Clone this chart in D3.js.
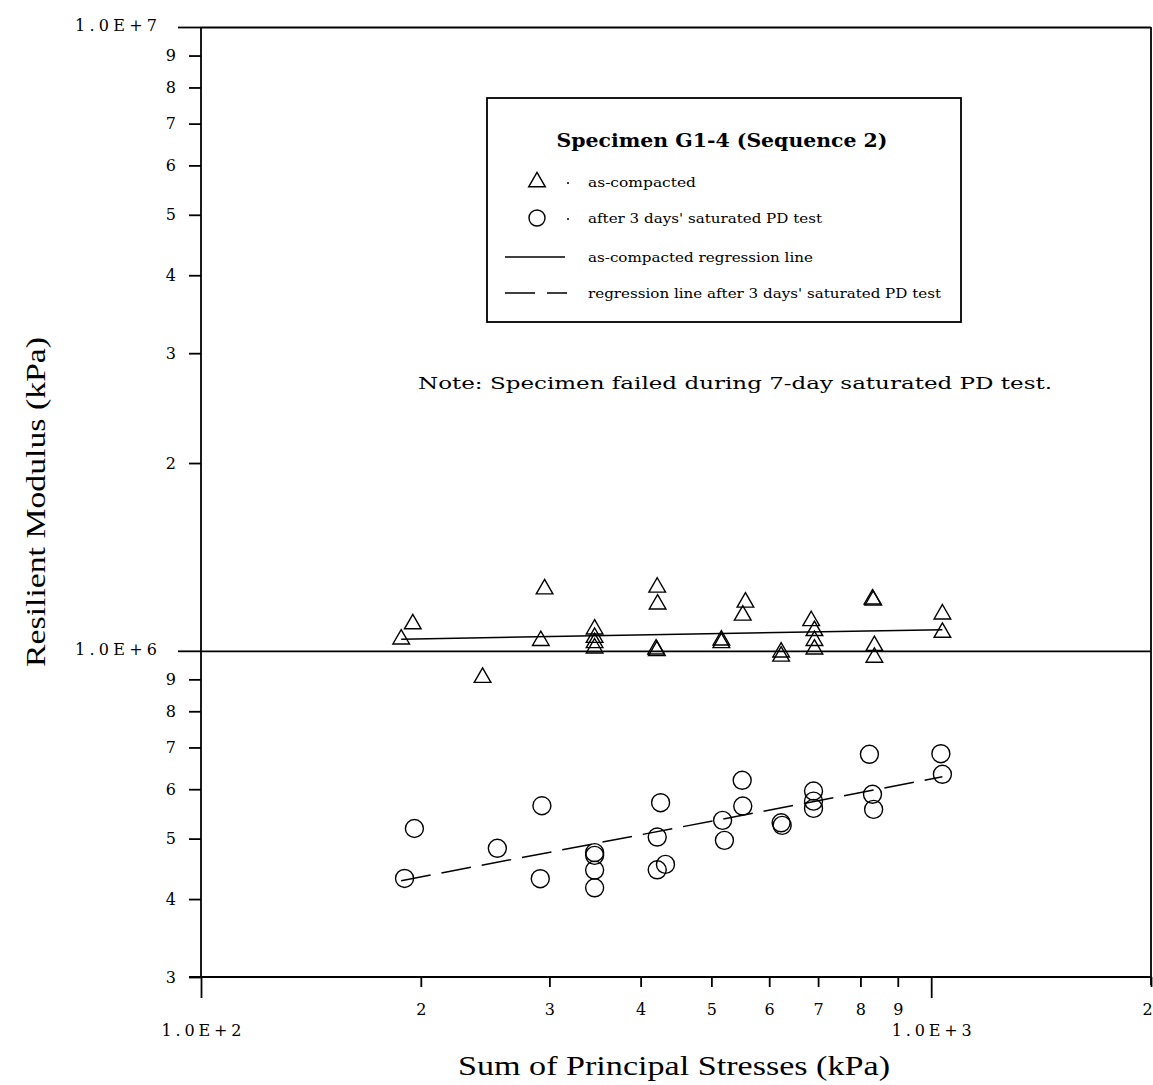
<!DOCTYPE html>
<html>
<head>
<meta charset="utf-8">
<script src="https://cdn.jsdelivr.net/npm/d3@7"></script>
<style>
  body { margin: 0; background: #fff; }
  svg { display: block; }
</style>
</head>
<body>
<svg id="chart" width="1153" height="1085"></svg>
<script>
// ---- data ----
const asCompactedX = [188, 195, 243, 295.5, 292, 346, 346, 346, 346, 421.5, 422, 420, 421, 516, 516, 556.7, 552, 623, 623, 685, 692, 692, 692, 831, 833, 836, 836, 1036, 1036];
const asCompactedY = [1.044e6, 1.104e6, 0.906e6, 1.256e6, 1.038e6, 1.083e6, 1.05e6, 1.03e6, 1.01e6, 1.264e6, 1.188e6, 1.006e6, 1.0e6, 1.04e6, 1.03e6, 1.196e6, 1.14e6, 0.995e6, 0.98e6, 1.117e6, 1.077e6, 1.038e6, 1.006e6, 1.21e6, 1.205e6, 1.019e6, 0.976e6, 1.145e6, 1.07e6];
const saturatedX = [190, 196, 254.6, 293, 291.5, 346, 346, 346, 346, 426, 421.5, 421.5, 432.6, 518, 521, 551, 552, 623, 625, 690, 690, 690, 823, 831, 834, 1031, 1036];
const saturatedY = [0.4316e6, 0.519e6, 0.4824e6, 0.5645e6, 0.4312e6, 0.4747e6, 0.470e6, 0.4451e6, 0.417e6, 0.5708e6, 0.5029e6, 0.4456e6, 0.4546e6, 0.5349e6, 0.4968e6, 0.6201e6, 0.5638e6, 0.53e6, 0.525e6, 0.596e6, 0.5742e6, 0.559e6, 0.6826e6, 0.5888e6, 0.5569e6, 0.684e6, 0.634e6];
const regressionX = [188, 1036];
const regressionAsCompactedY = [1.044e6, 1.081e6];
const regressionSaturatedY = [0.428e6, 0.628e6];
const yMinorTicks = [3e5, 4e5, 5e5, 6e5, 7e5, 8e5, 9e5, 2e6, 3e6, 4e6, 5e6, 6e6, 7e6, 8e6, 9e6];
const yMajorTicks = [1e6, 1e7];
const yMajorLabels = ["1.0E+6", "1.0E+7"];
const xMinorTicks = [200, 300, 400, 500, 600, 700, 800, 900, 2000];
const xMajorTicks = [100, 1000];
const xMajorLabels = ["1.0E+2", "1.0E+3"];
const legendTitle = "Specimen G1-4 (Sequence 2)";
const legendLabels = ["as-compacted", "after 3 days' saturated PD test", "as-compacted regression line", "regression line after 3 days' saturated PD test"];
const noteText = "Note: Specimen failed during 7-day saturated PD test.";
const xTitle = "Sum of Principal Stresses (kPa)";
const yTitle = "Resilient Modulus (kPa)";

// ---- scales ----
const svg = d3.select("#chart");
const x = d3.scaleLog().domain([100, 2000]).range([201, 1151]);
const y = d3.scaleLog().domain([3e5, 1e7]).range([977, 27]);
const lw = 1.8;
const tickFont = "'DejaVu Serif', serif";
const titleFont = "'Liberation Serif', 'Times New Roman', serif";
const digit = d => String(Math.round(d / Math.pow(10, Math.floor(Math.log10(d) + 1e-9))));
const styleTicks = (sel, size) => sel.style("font-family", tickFont).style("font-size", size + "px").attr("fill", "#000");

// frame lines at 1e6 / 1e7 spanning the plot
svg.append("g").attr("transform", "translate(201,0)")
  .call(d3.axisRight(y).tickValues(yMajorTicks).tickSize(950).tickFormat(""))
  .call(g => g.select(".domain").remove())
  .call(g => g.selectAll("line").attr("stroke", "#000").attr("stroke-width", lw));

// left minor ticks with labels
svg.append("g").attr("transform", "translate(201,0)")
  .call(d3.axisLeft(y).tickValues(yMinorTicks).tickSize(12).tickPadding(13).tickFormat(digit))
  .call(g => g.select(".domain").remove())
  .call(g => g.selectAll("line").attr("stroke", "#000").attr("stroke-width", lw))
  .call(g => styleTicks(g.selectAll("text"), 16));

// left major ticks with labels
svg.append("g").attr("transform", "translate(201,0)")
  .call(d3.axisLeft(y).tickValues(yMajorTicks).tickSize(23).tickPadding(21)
    .tickFormat((d, i) => yMajorLabels[i]))
  .call(g => g.select(".domain").remove())
  .call(g => g.selectAll("line").attr("stroke", "#000").attr("stroke-width", lw))
  .call(g => styleTicks(g.selectAll("text"), 16)
    .attr("textLength", 82).attr("lengthAdjust", "spacing").attr("dy", "0.2em"));

// bottom minor ticks
svg.append("g").attr("transform", "translate(0,977)")
  .call(d3.axisBottom(x).tickValues(xMinorTicks).tickSize(10).tickPadding(17).tickFormat(digit))
  .call(g => g.select(".domain").remove())
  .call(g => g.selectAll("line").attr("stroke", "#000").attr("stroke-width", lw))
  .call(g => styleTicks(g.selectAll("text"), 16))
  .call(g => g.selectAll(".tick").filter(d => d === 2000).select("text").attr("dx", -4));

// bottom major ticks
svg.append("g").attr("transform", "translate(0,977)")
  .call(d3.axisBottom(x).tickValues(xMajorTicks).tickSize(21).tickPadding(27)
    .tickFormat((d, i) => xMajorLabels[i]))
  .call(g => g.select(".domain").remove())
  .call(g => g.selectAll("line").attr("stroke", "#000").attr("stroke-width", lw))
  .call(g => styleTicks(g.selectAll("text"), 16)
    .attr("textLength", 80).attr("lengthAdjust", "spacing"));

// axis lines / frame
const frame = svg.append("g").attr("stroke", "#000").attr("stroke-width", lw);
frame.append("line").attr("x1", x(100)).attr("x2", x(100)).attr("y1", y(1e7)).attr("y2", y(3e5));
frame.append("line").attr("x1", x(100) - 12).attr("x2", x(2000)).attr("y1", y(3e5)).attr("y2", y(3e5));
frame.append("line").attr("x1", x(2000)).attr("x2", x(2000)).attr("y1", y(1e7)).attr("y2", y(3e5) + 8);

// regression lines
const line = d3.line().x(d => x(d[0])).y(d => y(d[1]));
svg.append("path").datum(regressionX.map((v, i) => [v, regressionAsCompactedY[i]]))
  .attr("d", line).attr("fill", "none").attr("stroke", "#000").attr("stroke-width", 1.5);
svg.append("path").datum(regressionX.map((v, i) => [v, regressionSaturatedY[i]]))
  .attr("d", line).attr("fill", "none").attr("stroke", "#000").attr("stroke-width", 1.5)
  .attr("stroke-dasharray", "30,11");

// markers
const tri = d3.symbol().type(d3.symbolTriangle).size(120);
svg.append("g").selectAll("path").data(asCompactedX.map((v, i) => [v, asCompactedY[i]]))
  .join("path")
  .attr("d", tri)
  .attr("transform", d => `translate(${x(d[0])},${y(d[1])})`)
  .attr("fill", "none").attr("stroke", "#000").attr("stroke-width", 1.4);
svg.append("g").selectAll("circle").data(saturatedX.map((v, i) => [v, saturatedY[i]]))
  .join("circle")
  .attr("cx", d => x(d[0])).attr("cy", d => y(d[1])).attr("r", 9)
  .attr("fill", "none").attr("stroke", "#000").attr("stroke-width", 1.4);

// legend
const lg = svg.append("g");
lg.append("rect").attr("x", 487).attr("y", 98).attr("width", 474).attr("height", 224)
  .attr("fill", "#fff").attr("stroke", "#000").attr("stroke-width", lw);
lg.append("text").attr("x", 722).attr("y", 147).attr("text-anchor", "middle")
  .style("font-family", tickFont).style("font-size", "18px").style("font-weight", "bold")
  .attr("textLength", 331).attr("lengthAdjust", "spacingAndGlyphs")
  .text(legendTitle);
const rowsY = [182, 218, 257, 293];
const textLens = [108, 234, 225, 353];
lg.append("path").attr("d", tri).attr("transform", `translate(537,${rowsY[0]})`)
  .attr("fill", "none").attr("stroke", "#000").attr("stroke-width", 1.4);
lg.append("circle").attr("cx", 537).attr("cy", rowsY[1]).attr("r", 8)
  .attr("fill", "none").attr("stroke", "#000").attr("stroke-width", 1.4);
lg.append("circle").attr("cx", 568).attr("cy", rowsY[0] + 1).attr("r", 1).attr("fill", "#000");
lg.append("circle").attr("cx", 568).attr("cy", rowsY[1] + 1).attr("r", 1).attr("fill", "#000");
lg.append("line").attr("x1", 505).attr("x2", 565).attr("y1", rowsY[2]).attr("y2", rowsY[2])
  .attr("stroke", "#000").attr("stroke-width", 1.5);
lg.append("line").attr("x1", 505).attr("x2", 567).attr("y1", rowsY[3]).attr("y2", rowsY[3])
  .attr("stroke", "#000").attr("stroke-width", 1.5).attr("stroke-dasharray", "30,12");
legendLabels.forEach((t, i) => {
  lg.append("text").attr("x", 588).attr("y", rowsY[i] + 5)
    .style("font-family", tickFont).style("font-size", "13px")
    .attr("textLength", textLens[i]).attr("lengthAdjust", "spacingAndGlyphs").text(t);
});

// note
svg.append("text").attr("x", 418).attr("y", 389)
  .style("font-family", tickFont).style("font-size", "17px")
  .attr("textLength", 634).attr("lengthAdjust", "spacingAndGlyphs").text(noteText);

// axis titles
svg.append("text").attr("x", 674).attr("y", 1075).attr("text-anchor", "middle")
  .style("font-family", titleFont).style("font-size", "28px")
  .attr("textLength", 432).attr("lengthAdjust", "spacingAndGlyphs").text(xTitle);
svg.append("text").attr("transform", "translate(45,502) rotate(-90)").attr("text-anchor", "middle")
  .style("font-family", titleFont).style("font-size", "28px")
  .attr("textLength", 330).attr("lengthAdjust", "spacingAndGlyphs").text(yTitle);
</script>
</body>
</html>
